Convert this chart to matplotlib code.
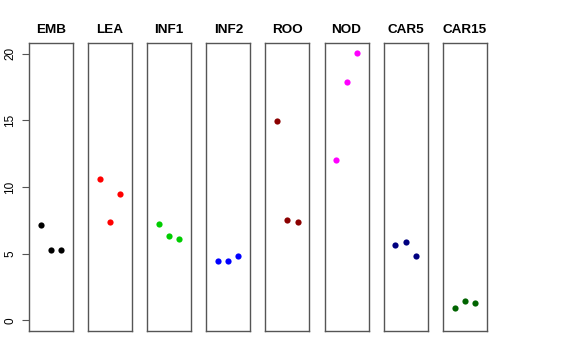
import matplotlib
matplotlib.use('Agg')
import matplotlib.pyplot as plt

plt.rcParams['font.family'] = ['Liberation Sans', 'DejaVu Sans']

tissues = ['EMB', 'LEA', 'INF1', 'INF2', 'ROO', 'NOD', 'CAR5', 'CAR15']
colors = ['black', 'red', '#00CD00', 'blue', '#8B0000', 'magenta', '#000080', '#006400']
reps = [1, 2, 3]
values = [
    [7.17, 5.31, 5.31],
    [10.6, 7.34, 9.5],
    [7.26, 6.34, 6.11],
    [4.48, 4.48, 4.83],
    [14.93, 7.49, 7.39],
    [12.0, 17.84, 20.05],
    [5.64, 5.86, 4.83],
    [0.90, 1.47, 1.32],
]
yticks = [0, 5, 10, 15, 20]

W, H = 576, 360
fig = plt.figure(figsize=(W / 100, H / 100), dpi=100)

for i, (name, col, vals) in enumerate(zip(tissues, colors, values)):
    left = 29 + 59.1 * i
    ax = fig.add_axes([left / W, 29 / H, 44 / W, 288 / H])
    ax.scatter(reps, vals, s=20, color=col, zorder=3, linewidths=0)
    ax.set_xlim(-0.16, 4.16)
    ax.set_ylim(-0.8, 20.8)
    ax.set_xticks([])
    for s in ax.spines.values():
        s.set_color('#555555')
        s.set_linewidth(1)
    ax.set_title(name, fontsize=9.7, fontweight='bold', pad=7)
    if i == 0:
        ax.set_yticks(yticks)
        ax.set_yticklabels([str(t) for t in yticks], rotation=90, va='center', fontsize=8.5)
        ax.tick_params(axis='y', length=5, width=0.8, color='#555555', pad=4)
    else:
        ax.set_yticks([])

fig.savefig('out.png', dpi=100)
